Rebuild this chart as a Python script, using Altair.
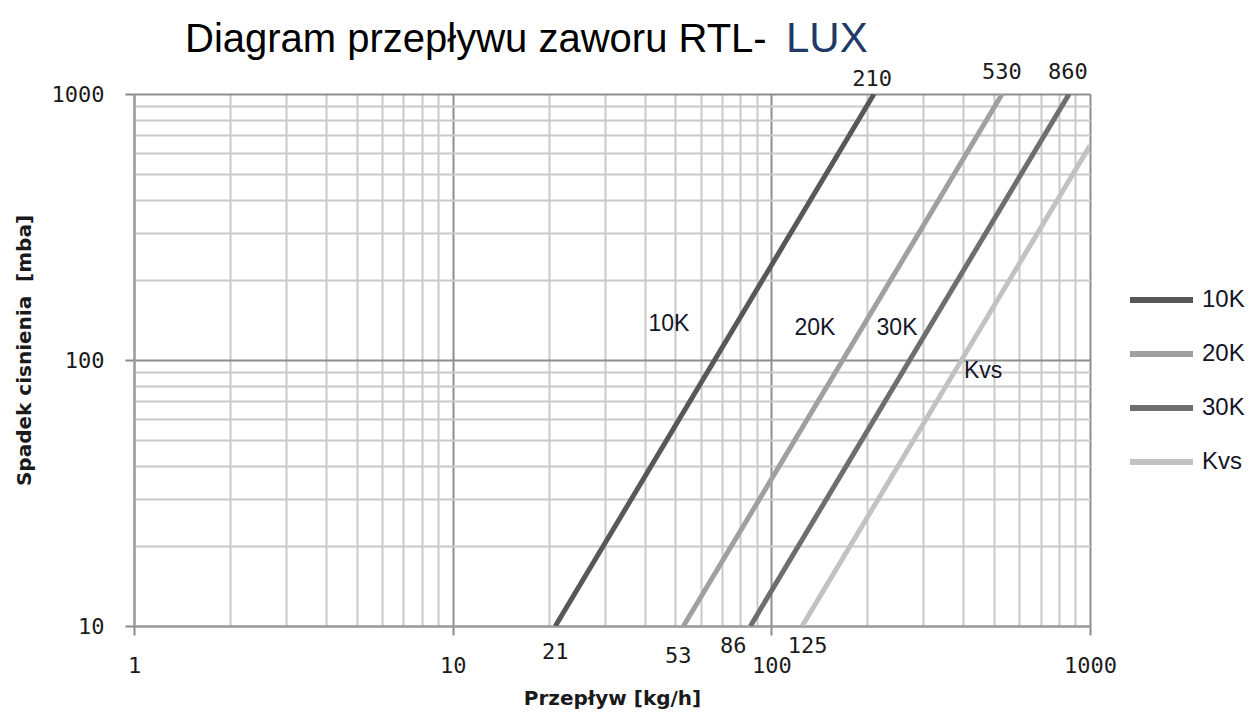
import altair as alt
import pandas as pd

# ---- data ----
series = ["10K", "20K", "30K", "Kvs"]
flow_start = [21, 53, 86, 125]
flow_end = [210, 530, 860, 1000]
drop_start = [10, 10, 10, 10]
drop_end = [1000, 1000, 1000, 640]
series_colors = ["#585858", "#a0a0a0", "#6e6e6e", "#c2c2c2"]

bottom_labels = ["21", "53", "86", "125"]
bottom_x = [21, 51, 76, 130]
bottom_y = [8.0, 7.7, 8.4, 8.4]

top_labels = ["210", "530", "860"]
top_x = [207, 529, 853]
top_y = [1140, 1210, 1210]

curve_labels = ["10K", "20K", "30K", "Kvs"]
curve_x = [47.7, 137, 248, 462]
curve_y = [136, 132, 132, 91]

x_values = [1, 2, 3, 4, 5, 6, 7, 8, 9,
            10, 20, 30, 40, 50, 60, 70, 80, 90,
            100, 200, 300, 400, 500, 600, 700, 800, 900, 1000]
y_values = [10, 20, 30, 40, 50, 60, 70, 80, 90,
            100, 200, 300, 400, 500, 600, 700, 800, 900, 1000]

title_main = "Diagram przepływu zaworu RTL-"
title_accent = "LUX"
x_title = "Przepływ [kg/h]"
y_title = "Spadek cisnienia \u00a0[mba]"

# ---- tables ----
rows = []
for s, x0, x1, y0, y1 in zip(series, flow_start, flow_end, drop_start, drop_end):
    rows.append({"series": s, "flow": x0, "drop": y0})
    rows.append({"series": s, "flow": x1, "drop": y1})
lines_df = pd.DataFrame(rows)

bottom_df = pd.DataFrame({"label": bottom_labels, "flow": bottom_x, "drop": bottom_y})
top_df = pd.DataFrame({"label": top_labels, "flow": top_x, "drop": top_y})
curve_df = pd.DataFrame({"label": curve_labels, "flow": curve_x, "drop": curve_y})

major_x = "datum.value == 1 || datum.value == 10 || datum.value == 100 || datum.value == 1000"
major_y = "datum.value == 10 || datum.value == 100 || datum.value == 1000"

x_scale = alt.Scale(type="log", domain=[1, 1000], nice=False)
y_scale = alt.Scale(type="log", domain=[10, 1000], nice=False)

x_axis = alt.Axis(
    values=x_values,
    labelExpr=f"({major_x}) ? format(datum.value, 'd') : ''",
    labelFont="DejaVu Sans Mono", labelFontSize=22, labelColor="#1a1a1a",
    labelBaseline="middle", labelPadding=30, labelOverlap=False, labelFlush=False,
    tickSize=9, tickWidth=2, tickColor="#8a8a8a",
    tickOpacity={"condition": {"test": major_x, "value": 1}, "value": 0},
    grid=True, gridWidth=2,
    gridColor={"condition": {"test": major_x, "value": "#8e8e8e"}, "value": "#c9c9c9"},
    domainColor="#9a9a9a", domainWidth=2,
    title=x_title, titleFont="DejaVu Sans", titleFontSize=20, titleFontWeight="bold",
    titleColor="#1a1a1a", titleBaseline="middle", titleY=72,
)
y_axis = alt.Axis(
    values=y_values,
    labelExpr=f"({major_y}) ? format(datum.value, 'd') : ''",
    labelFont="DejaVu Sans Mono", labelFontSize=22, labelColor="#1a1a1a",
    labelPadding=21, labelOverlap=False, labelFlush=False,
    tickSize=9, tickWidth=2, tickColor="#8a8a8a",
    tickOpacity={"condition": {"test": major_y, "value": 1}, "value": 0},
    grid=True, gridWidth=2,
    gridColor={"condition": {"test": major_y, "value": "#8e8e8e"}, "value": "#c9c9c9"},
    domainColor="#9a9a9a", domainWidth=2,
    title=y_title, titleFont="DejaVu Sans", titleFontSize=20, titleFontWeight="bold",
    titleColor="#1a1a1a", titleAngle=270, titleAlign="center", titleBaseline="middle",
    titleX=-110, titleY=256,
)

legend = alt.Legend(
    orient="none", legendX=993, legendY=179, title=None,
    symbolType="stroke", symbolSize=3969, symbolStrokeWidth=6, symbolOpacity=1,
    labelFont="Liberation Sans", labelFontSize=24, labelColor="#141428", labelOffset=6,
    rowPadding=0, clipHeight=54, padding=0,
)

lines = alt.Chart(lines_df).mark_line(strokeWidth=5, clip=True).encode(
    x=alt.X("flow:Q", scale=x_scale, axis=x_axis),
    y=alt.Y("drop:Q", scale=y_scale, axis=y_axis),
    color=alt.Color("series:N", scale=alt.Scale(domain=series, range=series_colors), legend=legend),
    detail="series:N",
)

bottom_text = alt.Chart(bottom_df).mark_text(
    font="DejaVu Sans Mono", fontSize=22, color="#1a1a1a", baseline="middle", align="center"
).encode(x=alt.X("flow:Q", scale=x_scale), y=alt.Y("drop:Q", scale=y_scale), text="label:N")

top_text = alt.Chart(top_df).mark_text(
    font="DejaVu Sans Mono", fontSize=22, color="#1a1a1a", baseline="middle", align="center"
).encode(x=alt.X("flow:Q", scale=x_scale), y=alt.Y("drop:Q", scale=y_scale), text="label:N")

curve_text = alt.Chart(curve_df).mark_text(
    font="Liberation Sans", fontSize=23, color="#141428", baseline="middle", align="center"
).encode(x=alt.X("flow:Q", scale=x_scale), y=alt.Y("drop:Q", scale=y_scale), text="label:N")

title_df = pd.DataFrame({"t": [title_main]})
accent_df = pd.DataFrame({"t": [title_accent]})
title_text = alt.Chart(title_df).mark_text(
    font="Liberation Sans", fontSize=40, color="#000000", align="left", baseline="alphabetic"
).encode(x=alt.value(51), y=alt.value(-42), text="t:N")
accent_text = alt.Chart(accent_df).mark_text(
    font="Liberation Sans", fontSize=42, color="#1f3a66", align="left", baseline="alphabetic"
).encode(x=alt.value(652), y=alt.value(-42), text="t:N")

chart = alt.layer(lines, bottom_text, top_text, curve_text, title_text, accent_text).properties(
    width=956, height=532,
    autosize=alt.AutoSizeParams(type="none"),
    padding={"left": 126, "top": 86, "right": 158, "bottom": 88},
).configure_view(stroke="#a0a0a0", strokeWidth=2).configure(background="white")

chart.save("out.html", embed_options={"renderer": "svg", "actions": False})
